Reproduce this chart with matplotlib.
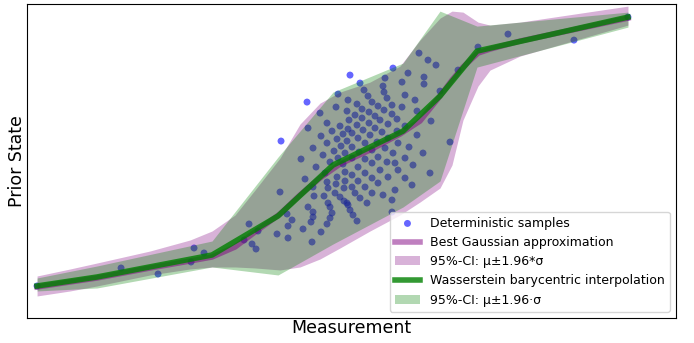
import matplotlib
matplotlib.use("Agg")
import matplotlib.pyplot as plt
import numpy as np

sample_x = [307, 281, 350, 338, 320, 308, 336, 347, 348, 327, 340, 332, 348, 343, 321, 337, 347,
            313, 327, 341, 334, 345, 301, 323, 338, 330, 316, 343, 325, 337, 345, 305, 327, 336,
            345, 313, 328, 344, 280, 335, 314, 324, 340, 344, 308, 328, 330, 348, 313, 332, 287,
            313, 330, 292, 311, 327, 249, 288, 303, 258, 321, 277, 288, 244, 312, 252, 256,
            393, 419, 428, 436, 408, 424, 458, 385, 360, 402, 424, 440, 364, 383, 384, 405, 368,
            387, 415, 372, 357, 378, 392, 402, 362, 417, 369, 384, 355, 375, 392, 362, 380, 397,
            431, 349, 369, 388, 357, 405, 375, 363, 397, 382, 352, 370, 417, 358, 388, 450, 377,
            365, 398, 352, 385, 409, 372, 359, 393, 423, 378, 405, 365, 352, 387, 395, 372, 413,
            358, 380, 398, 365, 430, 352, 388, 372, 405, 358, 378, 412, 365, 395, 352, 372, 383,
            355, 360, 392, 367, 347, 350, 392, 353, 357,
            121, 158, 194, 191, 204, 37, 508, 574, 628, 478]
sample_y = [218, 179, 245, 226, 207, 192, 213, 209, 220, 197, 194, 189, 191, 186, 184, 181, 179,
            172, 177, 174, 169, 167, 161, 165, 162, 158, 153, 156, 147, 143, 148, 141, 138, 136,
            139, 133, 132, 132, 128, 127, 124, 124, 123, 119, 113, 117, 113, 115, 108, 107, 106,
            103, 102, 100, 98, 96, 96, 94, 91, 89, 88, 86, 82, 80, 78, 76, 71,
            252, 267, 260, 255, 247, 243, 250, 242, 237, 238, 236, 229, 230, 234, 228, 225, 224,
            222, 220, 218, 216, 214, 215, 213, 211, 209, 208, 210, 205, 204, 206, 202, 200, 201,
            199, 200, 197, 196, 195, 194, 192, 190, 189, 188, 187, 185, 185, 182, 182, 178, 178,
            177, 177, 173, 172, 173, 170, 168, 167, 167, 163, 162, 161, 162, 158, 157, 157, 155,
            153, 150, 150, 147, 147, 145, 143, 142, 142, 139, 137, 135, 133, 130, 133, 127, 125,
            127, 122, 120, 117, 117, 110, 108, 105, 99,
            52, 46, 72, 58, 67, 34, 286, 280, 303, 273]

# best Gaussian approximation (smooth mean and 95% band)
gauss_x = [37, 70, 97, 150, 190, 212, 235, 255, 280, 300, 320, 340, 370, 400, 420, 440, 452,
           463, 478, 490, 520, 628]
gauss_mean = [33, 38, 42, 52, 59, 63, 73, 88, 106, 125, 142, 156, 170, 186, 199, 224, 240,
              253, 267, 271, 279, 302]
gauss_upper = [44, 51, 57, 69, 80, 89, 105, 130, 162, 196, 217, 228, 238, 254, 280, 302, 309,
               308, 298, 295, 298, 314]
gauss_lower = [24, 29, 34, 45, 51, 53, 53, 52, 50, 53, 61, 72, 89, 105, 118, 132, 155,
               200, 234, 250, 264, 295]

# Wasserstein barycentric interpolation (piecewise linear)
wass_x = [37, 97, 212, 278, 333, 403, 440, 477, 628]
wass_mean = [34, 43, 65, 104, 155, 189, 224, 269, 303]
wass_upper = [42, 54, 79, 163, 228, 257, 309, 294, 308]
wass_lower = [29, 32, 53, 45, 76, 113, 139, 253, 293]

fig = plt.figure(figsize=(6.94, 3.43), dpi=100)
ax = fig.add_axes([0.039, 0.073, 0.935, 0.915])

ax.scatter(sample_x, sample_y, s=25, c='blue', alpha=0.6, edgecolors='none',
           label='Deterministic samples')
ax.plot(gauss_x, gauss_mean, color='purple', alpha=0.5, lw=4,
        label='Best Gaussian approximation')
ax.fill_between(gauss_x, gauss_lower, gauss_upper, color='purple', alpha=0.3, lw=0,
                label='95%-CI: μ±1.96*σ')
ax.plot(wass_x, wass_mean, color='green', alpha=0.8, lw=4,
        label='Wasserstein barycentric interpolation')
ax.fill_between(wass_x, wass_lower, wass_upper, color='green', alpha=0.3, lw=0,
                label='95%-CI: μ±1.96·σ')

ax.set_xlim(27, 676)
ax.set_ylim(2, 316)
ax.set_xticks([])
ax.set_yticks([])
ax.set_xlabel('Measurement', fontsize=12.5, labelpad=1)
ax.set_ylabel('Prior State', fontsize=12.5, labelpad=1)
ax.legend(loc='lower right', fontsize=9)

fig.savefig('out.png', dpi=100)
